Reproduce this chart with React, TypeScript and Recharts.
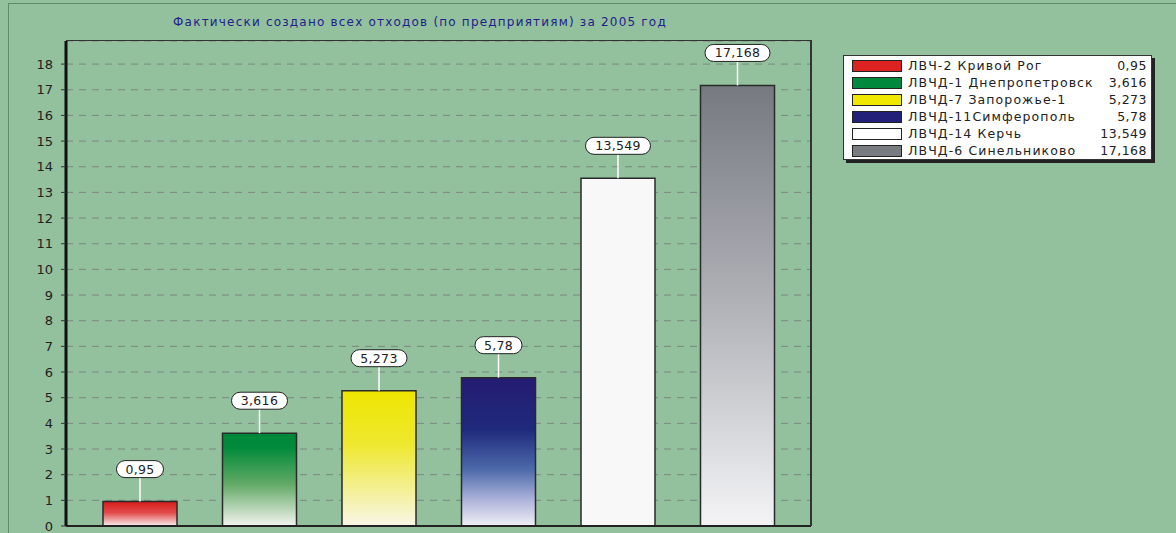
import React from 'react';
import { BarChart, Bar, XAxis, YAxis, CartesianGrid, Cell, LabelList } from 'recharts';

const depots = [
    'ЛВЧ-2 Кривой Рог',
    'ЛВЧД-1 Днепропетровск',
    'ЛВЧД-7 Запорожье-1',
    'ЛВЧД-11Симферополь',
    'ЛВЧД-14 Керчь',
    'ЛВЧД-6 Синельниково',
];
const waste = [0.95, 3.616, 5.273, 5.78, 13.549, 17.168];
const yTicks = [0, 1, 2, 3, 4, 5, 6, 7, 8, 9, 10, 11, 12, 13, 14, 15, 16, 17, 18];
const minorTicks = Array.from({ length: 94 }, (_, i) => Math.round((i + 1) * 2) / 10);
const swatches = ['#dd2222', '#00883c', '#f0e800', '#23207a', '#ffffff', '#787c80'];

// gradient stops per bar, top -> bottom
const gradients: [number, string][][] = [
    [[0, '#d81c1c'], [0.45, '#e24a4a'], [1, '#f8f0f0']],
    [[0, '#00883a'], [0.15, '#008a3a'], [0.55, '#62aa66'], [1, '#f4f4f0']],
    [[0, '#eee600'], [0.4, '#eee830'], [1, '#f8f6e8']],
    [[0, '#241c72'], [0.35, '#1f2a7c'], [0.62, '#4d6aaa'], [0.82, '#acb2da'], [1, '#f0f0f6']],
    [[0, '#f8f8f8'], [1, '#f8f8f8']],
    [[0, '#767a80'], [0.5, '#b0b2b8'], [1, '#f4f4f6']],
];

const fmt = (v: number) => String(v).replace('.', ',');

const data = depots.map((name, i) => ({ name, value: waste[i] }));

const font = '"DejaVu Sans", Verdana, sans-serif';

const ValueLabel = (props: any) => {
    const { x, y, width, value } = props;
    const cx = x + width / 2;
    const text = fmt(value);
    const w = text.length * 9 + 11;
    const h = 17;
    const bottom = y - 24;
    return (
        <g>
            <line x1={cx} y1={y} x2={cx} y2={bottom} stroke="#ffffff" strokeWidth={1.5} />
            <rect x={cx - w / 2} y={bottom - h} width={w} height={h} rx={8.5} fill="#ffffff" stroke="#222" strokeWidth={1} />
            <text x={cx} y={bottom - h / 2 + 4.5} textAnchor="middle" fontSize={12.5} letterSpacing={0.3} fontFamily={font} fill="#222">
                {text}
            </text>
        </g>
    );
};

const App: React.FC = () => {
    return (
        <div style={{ position: 'fixed', left: 0, top: 0, width: 1176, height: 533, background: '#93c09d', overflow: 'hidden', fontFamily: font }}>
            <div style={{ position: 'absolute', left: 8, top: 3, width: 1180, height: 540, borderLeft: '1px solid #5f8c68', borderTop: '1px solid #5f8c68' }} />
            <div style={{ position: 'absolute', left: 0, width: 840, top: 15, textAlign: 'center', fontSize: 12, letterSpacing: 1.2, color: '#22228a' }}>
                Фактически создано всех отходов (по предприятиям) за 2005 год
            </div>
            <div style={{ position: 'absolute', left: 0, top: 0 }}>
                <BarChart width={1176} height={533} data={data} margin={{ top: 41, right: 365, left: 26, bottom: 6 }}>
                    <defs>
                        {gradients.map((stops, i) => (
                            <linearGradient key={i} id={`g${i}`} x1="0" y1="0" x2="0" y2="1">
                                {stops.map(([o, c], j) => (
                                    <stop key={j} offset={o} stopColor={c} />
                                ))}
                            </linearGradient>
                        ))}
                    </defs>
                    <CartesianGrid vertical={false} stroke="#7b8880" strokeDasharray="7 6" />
                    <XAxis dataKey="name" tick={false} tickLine={false} height={1} axisLine={{ stroke: '#222', strokeWidth: 2 }} padding={{ left: 14, right: 14 }} />
                    <YAxis
                        yAxisId="minor"
                        width={0}
                        domain={[0, 18.9]}
                        ticks={minorTicks}
                        interval={0}
                        allowDataOverflow
                        tick={false}
                        tickSize={3}
                        tickLine={{ stroke: '#555' }}
                        axisLine={false}
                    />
                    <YAxis
                        width={40}
                        domain={[0, 18.9]}
                        ticks={yTicks}
                        interval={0}
                        allowDataOverflow
                        tickSize={5}
                        tickMargin={8}
                        tickLine={{ stroke: '#333' }}
                        axisLine={{ stroke: '#111', strokeWidth: 3 }}
                        tick={{ fill: '#222', fontSize: 13, fontFamily: font }}
                    />
                    <Bar dataKey="value" barSize={74} stroke="#2a2a2a" strokeWidth={1.5} isAnimationActive={false}>
                        {data.map((d, i) => (
                            <Cell key={`cell-${i}`} fill={`url(#g${i})`} />
                        ))}
                        <LabelList dataKey="value" content={ValueLabel} />
                    </Bar>
                </BarChart>
            </div>
            {/* plot frame top / right */}
            <div style={{ position: 'absolute', left: 66, top: 40, width: 744, height: 485, borderTop: '1.5px solid #333', borderRight: '2px solid #333', pointerEvents: 'none' }} />
            {/* legend */}
            <div style={{ position: 'absolute', left: 843, top: 55, width: 307, height: 103, background: '#fff', border: '1px solid #333', boxShadow: '3px 3px 0 #222', fontSize: 12.5, color: '#222' }}>
                {depots.map((name, i) => (
                    <div key={name} style={{ position: 'absolute', left: 0, top: 1 + i * 17, width: 307, height: 17, display: 'flex', alignItems: 'center' }}>
                        <div style={{ marginLeft: 8, width: 48, height: 10, background: swatches[i], border: '1px solid #222' }} />
                        <div style={{ marginLeft: 6, whiteSpace: 'nowrap', letterSpacing: 1.1 }}>{name}</div>
                        <div style={{ marginLeft: 'auto', marginRight: 4, letterSpacing: 0.5 }}>{fmt(waste[i])}</div>
                    </div>
                ))}
            </div>
        </div>
    );
};

export default App;
